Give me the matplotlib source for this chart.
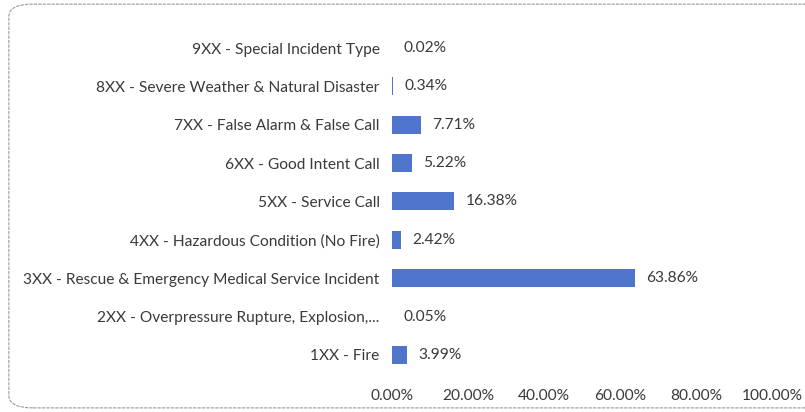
import matplotlib
matplotlib.use("Agg")
import matplotlib.pyplot as plt
from matplotlib.patches import FancyBboxPatch

categories = [
    "1XX - Fire",
    "2XX - Overpressure Rupture, Explosion,...",
    "3XX - Rescue & Emergency Medical Service Incident",
    "4XX - Hazardous Condition (No Fire)",
    "5XX - Service Call",
    "6XX - Good Intent Call",
    "7XX - False Alarm & False Call",
    "8XX - Severe Weather & Natural Disaster",
    "9XX - Special Incident Type",
]
values = [3.99, 0.05, 63.86, 2.42, 16.38, 5.22, 7.71, 0.34, 0.02]
xticks = [0, 20, 40, 60, 80, 100]
xtick_labels = ["0.00%", "20.00%", "40.00%", "60.00%", "80.00%", "100.00%"]

plt.rcParams['font.family'] = ['Lato', 'DejaVu Sans']
text_color = "#3a3a3a"
fs = 11.2

fig = plt.figure(figsize=(8.05, 4.12), dpi=100)
fig.patch.set_facecolor("white")

frame = FancyBboxPatch((0.011, 0.01), 1.05, 0.98, boxstyle="round,pad=0,rounding_size=0.03",
                       transform=fig.transFigure, facecolor="none", edgecolor="#9a9a9a",
                       linewidth=0.8, linestyle=(0, (3, 1)))
fig.patches.append(frame)

ax = fig.add_axes([0.487, 0.092, 0.472, 0.838])
ypos = list(range(len(categories)))
ax.barh(ypos, values, height=0.47, color="#4f74cc", edgecolor="none")
for y, v in zip(ypos, values):
    ax.annotate(f"{v:.2f}%", (v, y), xytext=(8, 0), textcoords="offset points",
                va="center", ha="left", fontsize=fs, color=text_color)

ax.set_xlim(0, 100)
ax.set_ylim(-0.5, len(categories) - 0.5)
ax.set_yticks(ypos)
ax.set_yticklabels(categories, fontsize=fs, color=text_color)
ax.set_xticks(xticks)
ax.set_xticklabels(xtick_labels, fontsize=fs, color=text_color)
ax.tick_params(axis="both", length=0)
ax.tick_params(axis="y", pad=9)
ax.tick_params(axis="x", pad=11)
for s in ax.spines.values():
    s.set_visible(False)

fig.savefig("out.png", dpi=100)
